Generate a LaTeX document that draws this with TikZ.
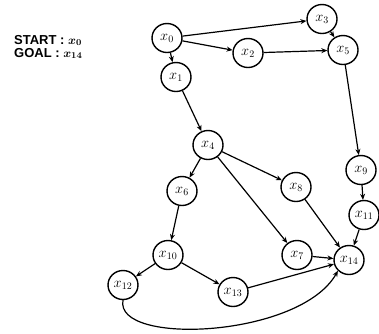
\documentclass[tikz,border=0pt]{standalone}
\usepackage{amsmath}
\usepackage{fontspec}
\setsansfont{Liberation Sans}
\usetikzlibrary{arrows.meta,shapes.geometric}
\tikzset{
  st/.style={draw,line width=1.4pt,ellipse,minimum width=30pt,minimum height=29pt,inner sep=0pt,font=\fontsize{14}{14}\selectfont},
  lbl/.style={anchor=base west,font=\sffamily\bfseries\fontsize{13}{13}\selectfont,inner sep=0pt},
  ar/.style={line width=1.2pt,-{Stealth[length=6pt,width=5pt]}}}
\begin{document}
\begin{tikzpicture}[x=1pt,y=-1pt]
\useasboundingbox (0,0) rectangle (379,333);
\node[lbl] (lstart) at (14,44) {START : $\boldsymbol{x_0}$};
\node[lbl] (lgoal) at (14,57) {GOAL : $\boldsymbol{x_{14}}$};
\node[st] (x0) at (167,38) {$x_0$};
\node[st] (x1) at (176,77) {$x_1$};
\node[st] (x2) at (248,53) {$x_2$};
\node[st] (x3) at (322,19) {$x_3$};
\node[st] (x5) at (343,50) {$x_5$};
\node[st] (x4) at (208,145) {$x_4$};
\node[st] (x6) at (182,191) {$x_6$};
\node[st] (x8) at (296,187) {$x_8$};
\node[st] (x9) at (361,170) {$x_9$};
\node[st] (x11) at (364,215) {$x_{11}$};
\node[st] (x7) at (297,255) {$x_7$};
\node[st] (x14) at (349,260) {$x_{14}$};
\node[st] (x10) at (168,255) {$x_{10}$};
\node[st] (x12) at (123,285) {$x_{12}$};
\node[st] (x13) at (233,292) {$x_{13}$};
\draw[ar] (x0) -- (x3);
\draw[ar] (x0) -- (x2);
\draw[ar] (x0) -- (x1);
\draw[ar] (x3) -- (x5);
\draw[ar] (x2) -- (x5);
\draw[ar] (x1) -- (x4);
\draw[ar] (x5) -- (x9);
\draw[ar] (x4) -- (x6);
\draw[ar] (x4) -- (x8);
\draw[ar] (x4) -- (x7);
\draw[ar] (x6) -- (x10);
\draw[ar] (x10) -- (x12);
\draw[ar] (x10) -- (x13);
\draw[ar] (x8) -- (x14);
\draw[ar] (x9) -- (x11);
\draw[ar] (x11) -- (x14);
\draw[ar] (x7) -- (x14);
\draw[ar] (x13) -- (x14);
\draw[ar] (x12.south) .. controls (114,346) and (300,338) .. (x14.south west);
\end{tikzpicture}
\end{document}
